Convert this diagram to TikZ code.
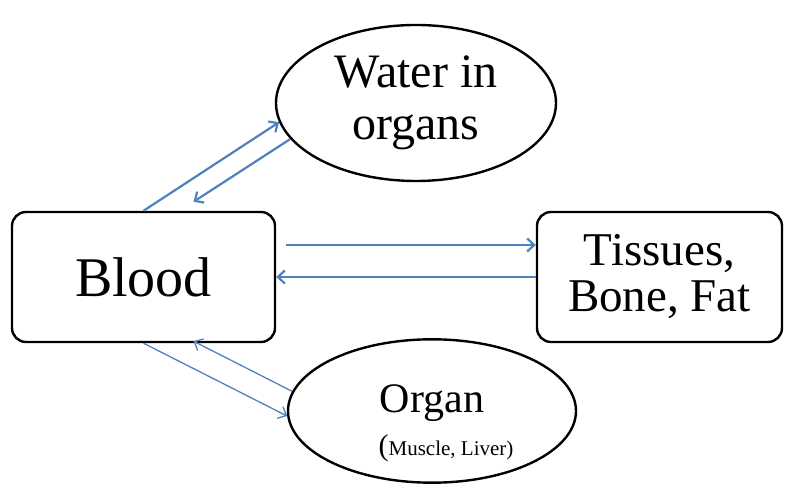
\documentclass[tikz,border=0pt]{standalone}
\usepackage{fontspec}
\setmainfont{Liberation Serif}
\usetikzlibrary{shapes.geometric, arrows.meta}
\definecolor{flowblue}{HTML}{4F81BD}

\begin{document}
\begin{tikzpicture}[x = 1pt, y = 1pt,
  box/.style = {draw, line width = 2.4pt, rounded corners = 14pt, inner sep = 0pt},
  oval/.style = {draw, ellipse, line width = 2.4pt, inner sep = 0pt},
  flow/.style = {flowblue, line width = 2.2pt, -{Straight Barb[length = 7pt, width = 13pt]}},
  thinflow/.style = {flow, line width = 1.3pt}]
 \useasboundingbox (0, 0) rectangle (788, 492);
 \node[box, minimum width = 263pt, minimum height = 130pt, font = \fontsize{56}{60}\selectfont]
   (blood) at (143.5, 215) {Blood};
 \node[box, minimum width = 245pt, minimum height = 130pt, align = center, font = \fontsize{47}{46}\selectfont]
   (tissues) at (659.5, 215) {Tissues,\\ Bone, Fat};
 \node[oval, minimum width = 280pt, minimum height = 156pt, align = center, font = \fontsize{48}{52}\selectfont]
   (water) at (416, 389) {Water in\\ organs};
 \node[oval, minimum width = 288pt, minimum height = 142pt, align = center, font = \fontsize{42}{43}\selectfont]
   (organ) at (432, 81) {\rule{0pt}{52pt}Organ\\ \hspace*{28pt}{\fontsize{30}{30}\selectfont (}{\fontsize{21}{21}\selectfont Muscle, Liver)}};
 \draw[flow] (blood.north) -- (water.188);
 \draw[flow] (water.196) -- ([shift = {(50, 9)}]blood.north);
 \draw[flow] ([shift = {(10, 32)}]blood.east) -- ([yshift = 32]tissues.west);
 \draw[flow] (tissues.west) -- (blood.east);
 \draw[thinflow] (blood.south) -- (organ.182);
 \draw[thinflow] (organ.172) -- ([shift = {(50, 2)}]blood.south);
\end{tikzpicture}
\end{document}
